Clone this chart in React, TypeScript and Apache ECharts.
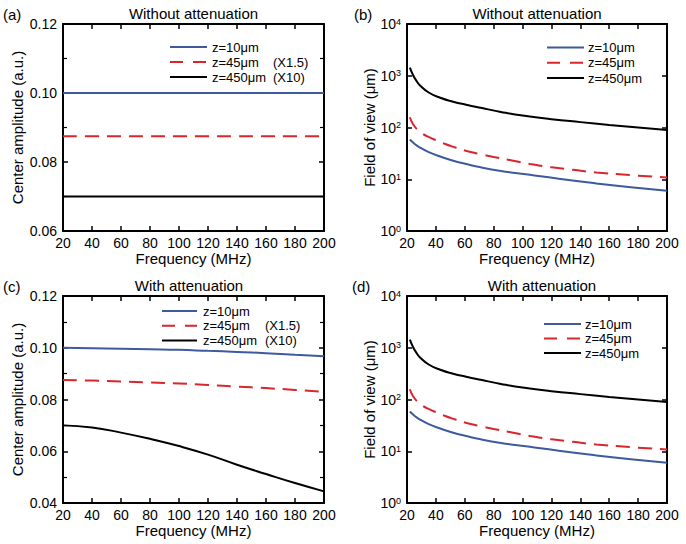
import React, { useEffect, useRef } from "react";
import * as echarts from "echarts";

// ---------- data ----------
const freqFlat = [20, 40, 60, 80, 100, 120, 140, 160, 180, 200];
const ampA_z10 = [0.1, 0.1, 0.1, 0.1, 0.1, 0.1, 0.1, 0.1, 0.1, 0.1];
const ampA_z45 = [0.0875, 0.0875, 0.0875, 0.0875, 0.0875, 0.0875, 0.0875, 0.0875, 0.0875, 0.0875];
const ampA_z450 = [0.07, 0.07, 0.07, 0.07, 0.07, 0.07, 0.07, 0.07, 0.07, 0.07];

const ampC_z10 = [0.1, 0.0998, 0.0996, 0.0994, 0.0992, 0.0988, 0.0984, 0.0979, 0.0973, 0.0967];
const ampC_z45 = [0.0875, 0.0873, 0.087, 0.0866, 0.0862, 0.0856, 0.085, 0.0844, 0.0837, 0.0829];
const ampC_z450 = [0.07, 0.0692, 0.0672, 0.0648, 0.062, 0.0587, 0.0548, 0.0512, 0.0477, 0.0445];

const fovFreq_z10 = [22, 25, 29, 35, 43, 52, 61, 71, 85, 105, 125, 151, 175, 200];
const fov_z10 = [58.5, 49, 41, 33.5, 27.5, 22.8, 19.7, 17, 14.5, 12.2, 10.2, 8.3, 7.0, 6.0];
const fovFreq_z45 = [22, 24, 27, 31, 36, 41, 46, 53, 60, 70, 80, 91, 105, 120, 135, 151, 175, 200];
const fov_z45 = [158, 118, 92, 75, 63.5, 55.5, 48.5, 41.5, 36, 31, 27, 23.5, 19.8, 17, 15.2, 13.5, 12, 10.8];
const fovFreq_z450 = [22, 24, 26, 29, 35, 43, 52, 61, 71, 85, 100, 120, 140, 160, 180, 200];
const fov_z450 = [1440, 1060, 840, 650, 475, 375, 315, 275, 240, 200, 170, 145, 127, 112, 100, 89];

const legendAmp = ["z=10μm", "z=45μm", "z=450μm"];
const legendScale = ["", "(X1.5)", "(X10)"];
const panelLabels = ["(a)", "(b)", "(c)", "(d)"];
const panelTitles = ["Without attenuation", "Without attenuation", "With attenuation", "With attenuation"];

// ---------- styles ----------
const FONT = "'Liberation Sans', Arial, Helvetica, sans-serif";
const BLUE = "#3d5a9e";
const RED = "#d9262c";
const BLACK = "#000000";
const COLORS = [BLUE, RED, BLACK];
const DASH = [14, 8];

const zip = (xs: number[], ys: number[]) => xs.map((x, i) => [x, ys[i]]);

const grids = [
  { left: 63, top: 24, width: 261, height: 207 },
  { left: 407, top: 24, width: 260, height: 207 },
  { left: 63, top: 296, width: 261, height: 207 },
  { left: 407, top: 296, width: 260, height: 207 },
];

const axisLine = { show: true, onZero: false, lineStyle: { color: "#000", width: 2 } };
const tick = { show: true, inside: true, length: 5, lineStyle: { color: "#000", width: 1.5 } };

function xAxes(gi: number) {
  return [
    {
      type: "value", gridIndex: gi, min: 20, max: 200, interval: 20, position: "bottom",
      name: "Frequency (MHz)", nameLocation: "middle", nameGap: 20,
      nameTextStyle: { fontSize: 15, color: "#000", fontFamily: FONT },
      axisLine, axisTick: tick,
      axisLabel: { fontSize: 14, color: "#000", margin: 5, fontFamily: FONT },
      splitLine: { show: false },
    },
    {
      type: "value", gridIndex: gi, min: 20, max: 200, interval: 20, position: "top",
      axisLine, axisTick: tick, axisLabel: { show: false }, splitLine: { show: false },
    },
  ];
}

function yLinear(gi: number, min: number) {
  const minor = { show: true, splitNumber: 2, length: 4, lineStyle: { color: "#000", width: 1.2 } };
  return [
    {
      type: "value", gridIndex: gi, min, max: 0.12, interval: 0.02, position: "left",
      name: "Center amplitude (a.u.)", nameLocation: "middle", nameGap: 38, nameRotate: 90,
      nameTextStyle: { fontSize: 15, color: "#000", fontFamily: FONT },
      axisLine, axisTick: tick, minorTick: minor,
      axisLabel: { fontSize: 14, color: "#000", margin: 6, fontFamily: FONT, formatter: (v: number) => v.toFixed(2) },
      splitLine: { show: false }, minorSplitLine: { show: false },
    },
    {
      type: "value", gridIndex: gi, min, max: 0.12, interval: 0.02, position: "right",
      axisLine, axisTick: tick, minorTick: minor, axisLabel: { show: false },
      splitLine: { show: false }, minorSplitLine: { show: false },
    },
  ];
}

function yLog(gi: number) {
  return [
    {
      type: "log", logBase: 10, gridIndex: gi, min: 1, max: 10000, position: "left",
      name: "Field of view (μm)", nameLocation: "middle", nameGap: 30, nameRotate: 90,
      nameTextStyle: { fontSize: 15, color: "#000", fontFamily: FONT },
      axisLine, axisTick: tick,
      axisLabel: {
        margin: 6,
        formatter: (v: number) => `{b|10}{s|${Math.round(Math.log10(v))}}`,
        rich: {
          b: { fontSize: 14, color: "#000", fontFamily: FONT },
          s: { fontSize: 9, color: "#000", fontFamily: FONT, verticalAlign: "top" },
        },
      },
      splitLine: { show: false },
    },
    {
      type: "log", logBase: 10, gridIndex: gi, min: 1, max: 10000, position: "right",
      axisLine, axisTick: tick, axisLabel: { show: false }, splitLine: { show: false },
    },
  ];
}

function line(gi: number, name: string, data: number[][], ci: number, dashed: boolean) {
  return {
    type: "line", name, xAxisIndex: gi * 2, yAxisIndex: gi * 2, data,
    showSymbol: false, symbol: "none", smooth: 0.5,
    lineStyle: { color: COLORS[ci], width: 2, type: dashed ? DASH : "solid" },
    silent: true,
  };
}

// legends: [lineX1, lineX2, textX, scaleX, rowY0, rowStep]
const legendPos = [
  [170, 207, 212, 273, 47, 15],
  [547, 584, 588, 0, 47.5, 15.3],
  [162, 197, 203, 265, 311, 14.7],
  [544, 581, 585, 0, 324, 14.5],
];
const titlePos = [
  [193.5, 13],
  [537, 13],
  [189, 285],
  [542, 285],
];
const letterPos = [
  [3, 14],
  [354, 14],
  [3, 286],
  [352, 286],
];

function buildGraphics() {
  const g: any[] = [];
  for (let p = 0; p < 4; p++) {
    const [x1, x2, tx, sx, y0, dy] = legendPos[p];
    for (let r = 0; r < 3; r++) {
      const y = y0 + r * dy;
      g.push({
        type: "line", silent: true,
        shape: { x1, y1: y, x2, y2: y },
        style: { stroke: COLORS[r], lineWidth: 2, lineDash: r === 1 ? [13, 10] : null },
      });
      g.push({
        type: "text", silent: true, x: tx, y,
        style: { text: legendAmp[r], fontSize: 13, fontFamily: FONT, fill: "#000", align: "left", verticalAlign: "middle" },
      });
      if (sx > 0 && legendScale[r]) {
        g.push({
          type: "text", silent: true, x: sx, y,
          style: { text: legendScale[r], fontSize: 13, fontFamily: FONT, fill: "#000", align: "left", verticalAlign: "middle" },
        });
      }
    }
    g.push({
      type: "text", silent: true, x: titlePos[p][0], y: titlePos[p][1],
      style: { text: panelTitles[p], fontSize: 15, fontFamily: FONT, fill: "#000", align: "center", verticalAlign: "middle" },
    });
    g.push({
      type: "text", silent: true, x: letterPos[p][0], y: letterPos[p][1],
      style: { text: panelLabels[p], fontSize: 15, fontFamily: FONT, fill: "#000", align: "left", verticalAlign: "middle" },
    });
  }
  return g;
}

export default function App() {
  const ref = useRef<HTMLDivElement>(null);
  useEffect(() => {
    if (!ref.current) return;
    const chart = echarts.init(ref.current, undefined, { renderer: "svg" });
    const option: any = {
      animation: false,
      backgroundColor: "#ffffff",
      textStyle: { fontFamily: FONT },
      grid: grids.map((g) => ({ ...g, show: false, outerBoundsMode: "none", containLabel: false })),
      xAxis: [...xAxes(0), ...xAxes(1), ...xAxes(2), ...xAxes(3)],
      yAxis: [...yLinear(0, 0.06), ...yLog(1), ...yLinear(2, 0.04), ...yLog(3)],
      series: [
        line(0, "A z10", zip(freqFlat, ampA_z10), 0, false),
        line(0, "A z45", zip(freqFlat, ampA_z45), 1, true),
        line(0, "A z450", zip(freqFlat, ampA_z450), 2, false),
        line(1, "B z10", zip(fovFreq_z10, fov_z10), 0, false),
        line(1, "B z45", zip(fovFreq_z45, fov_z45), 1, true),
        line(1, "B z450", zip(fovFreq_z450, fov_z450), 2, false),
        line(2, "C z10", zip(freqFlat, ampC_z10), 0, false),
        line(2, "C z45", zip(freqFlat, ampC_z45), 1, true),
        line(2, "C z450", zip(freqFlat, ampC_z450), 2, false),
        line(3, "D z10", zip(fovFreq_z10, fov_z10), 0, false),
        line(3, "D z45", zip(fovFreq_z45, fov_z45), 1, true),
        line(3, "D z450", zip(fovFreq_z450, fov_z450), 2, false),
      ],
      graphic: buildGraphics(),
    };
    chart.setOption(option);
    return () => chart.dispose();
  }, []);
  return (
    <div
      ref={ref}
      style={{ position: "fixed", left: 0, top: 0, width: 686, height: 544, background: "#fff" }}
    />
  );
}
